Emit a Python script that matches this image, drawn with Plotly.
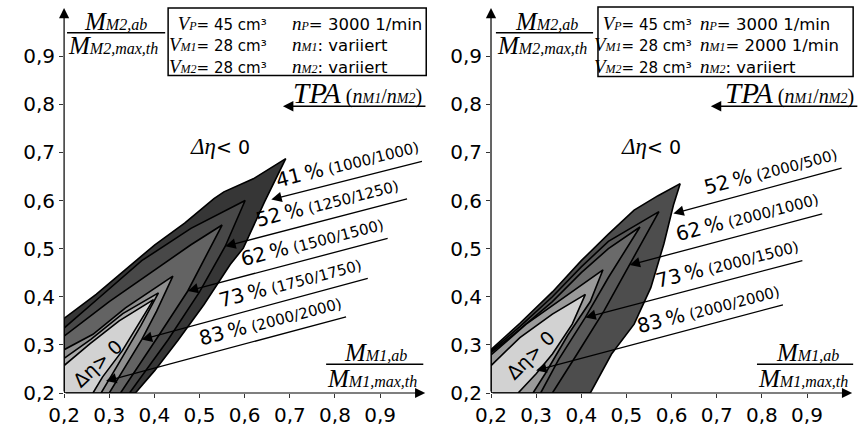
import math
import plotly.graph_objects as go

# ---------------- data ----------------
ticks = [0.2, 0.3, 0.4, 0.5, 0.6, 0.7, 0.8, 0.9]

# left panel: n_M1 = n_M2 varied; nested efficiency-gain regions (outer -> inner)
left_41_x = [0.2, 0.2, 0.271, 0.336, 0.401, 0.467, 0.532, 0.554, 0.619, 0.691, 0.644, 0.597, 0.568, 0.51, 0.452, 0.401, 0.358, 0.2]
left_41_y = [0.2, 0.355, 0.405, 0.456, 0.508, 0.553, 0.604, 0.618, 0.645, 0.687, 0.597, 0.501, 0.467, 0.384, 0.309, 0.247, 0.2, 0.2]
left_52_x = [0.2, 0.2, 0.28, 0.372, 0.481, 0.601, 0.557, 0.50, 0.43, 0.345, 0.2]
left_52_y = [0.2, 0.335, 0.40, 0.475, 0.542, 0.600, 0.505, 0.41, 0.31, 0.2, 0.2]
left_62_x = [0.2, 0.2, 0.30, 0.409, 0.481, 0.55, 0.474, 0.41, 0.325, 0.2]
left_62_y = [0.2, 0.318, 0.39, 0.46, 0.508, 0.549, 0.412, 0.32, 0.2, 0.2]
left_73_x = [0.2, 0.2, 0.264, 0.336, 0.441, 0.405, 0.372, 0.30, 0.2]
left_73_y = [0.2, 0.29, 0.322, 0.377, 0.443, 0.37, 0.311, 0.2, 0.2]
left_83_x = [0.2, 0.2, 0.26, 0.33, 0.409, 0.37, 0.32, 0.282, 0.2]
left_83_y = [0.2, 0.272, 0.312, 0.365, 0.408, 0.34, 0.26, 0.2, 0.2]
left_pos_x = [0.2, 0.2, 0.257, 0.322, 0.398, 0.365, 0.329, 0.285, 0.264, 0.2]
left_pos_y = [0.2, 0.257, 0.302, 0.35, 0.394, 0.343, 0.288, 0.233, 0.2, 0.2]

left_pct = ["41", "52", "62", "73", "83"]
left_tpa = ["1000/1000", "1250/1250", "1500/1500", "1750/1750", "2000/2000"]
left_head_x = [0.659, 0.557, 0.474, 0.372, 0.293]
left_head_y = [0.602, 0.505, 0.412, 0.311, 0.225]
left_tail_x = [0.996, 0.963, 0.920, 0.876, 0.828]
left_tail_y = [0.682, 0.604, 0.522, 0.439, 0.359]
left_text_x = [0.826, 0.783, 0.750, 0.700, 0.657]
left_text_y = [0.678, 0.596, 0.515, 0.431, 0.352]

# right panel: n_M1 = 2000 1/min, n_M2 varied
right_52_x = [0.2, 0.2, 0.264, 0.336, 0.40, 0.46, 0.517, 0.57, 0.619, 0.604, 0.583, 0.554, 0.517, 0.467, 0.42, 0.2]
right_52_y = [0.2, 0.29, 0.345, 0.41, 0.475, 0.53, 0.58, 0.61, 0.635, 0.59, 0.51, 0.419, 0.343, 0.281, 0.2, 0.2]
right_62_x = [0.2, 0.2, 0.264, 0.336, 0.40, 0.46, 0.572, 0.507, 0.45, 0.39, 0.336, 0.2]
right_62_y = [0.2, 0.287, 0.338, 0.40, 0.462, 0.515, 0.577, 0.466, 0.37, 0.28, 0.2, 0.2]
right_73_x = [0.2, 0.2, 0.264, 0.336, 0.40, 0.46, 0.53, 0.46, 0.409, 0.35, 0.31, 0.2]
right_73_y = [0.2, 0.284, 0.332, 0.39, 0.45, 0.50, 0.545, 0.44, 0.357, 0.27, 0.2, 0.2]
right_83_x = [0.2, 0.2, 0.278, 0.372, 0.448, 0.42, 0.37, 0.32, 0.293, 0.2]
right_83_y = [0.2, 0.279, 0.343, 0.405, 0.456, 0.39, 0.32, 0.24, 0.2, 0.2]
right_pos_x = [0.2, 0.2, 0.264, 0.336, 0.409, 0.380, 0.336, 0.30, 0.26, 0.2]
right_pos_y = [0.2, 0.257, 0.315, 0.364, 0.405, 0.343, 0.281, 0.24, 0.2, 0.2]

right_pct = ["52", "62", "73", "83"]
right_tpa = ["2000/500", "2000/1000", "2000/1500", "2000/2000"]
right_head_x = [0.604, 0.507, 0.409, 0.300]
right_head_y = [0.573, 0.466, 0.357, 0.247]
right_tail_x = [0.980, 0.937, 0.893, 0.850]
right_tail_y = [0.668, 0.573, 0.476, 0.384]
right_text_x = [0.820, 0.766, 0.722, 0.681]
right_text_y = [0.664, 0.567, 0.470, 0.377]

# ---------------- styling ----------------
W, H = 861, 427
TOP, BOT = 8, 396
SANS = "DejaVu Sans"
SERIF = "Liberation Serif"
PX_X = 460.0   # px per data unit (x)
PX_Y = 485.0   # px per data unit (y)

def px(p):
    return p / W

def py(p):
    return (BOT - p) / (BOT - TOP)

def sym(base, sub, bs, ss):
    return (f'<span style="font-family:{SERIF};font-size:{bs}px"><i>{base}</i></span>'
            f'<span style="font-family:{SERIF};font-size:{ss}px"><i>{sub}</i></span>')

def sans(t, s=16):
    return f'<span style="font-family:{SANS};font-size:{s}px">{t}</span>'

fig = go.Figure()

left_regions = [
    (left_41_x, left_41_y, "#363636"),
    (left_52_x, left_52_y, "#484848"),
    (left_62_x, left_62_y, "#636363"),
    (left_73_x, left_73_y, "#8f8f8f"),
    (left_83_x, left_83_y, "#aaaaaa"),
    (left_pos_x, left_pos_y, "#d2d2d2"),
]
right_regions = [
    (right_52_x, right_52_y, "#4d4d4d"),
    (right_62_x, right_62_y, "#585858"),
    (right_73_x, right_73_y, "#6a6a6a"),
    (right_83_x, right_83_y, "#9a9a9a"),
    (right_pos_x, right_pos_y, "#d2d2d2"),
]
for xs, ys, c in left_regions:
    fig.add_trace(go.Scatter(x=xs, y=ys, mode="lines", fill="toself", fillcolor=c,
                             line=dict(color="black", width=1.6), hoverinfo="skip",
                             xaxis="x", yaxis="y"))
for xs, ys, c in right_regions:
    fig.add_trace(go.Scatter(x=xs, y=ys, mode="lines", fill="toself", fillcolor=c,
                             line=dict(color="black", width=1.6), hoverinfo="skip",
                             xaxis="x2", yaxis="y2"))

ann = []
shapes = []

def arrow(xr, yr, hx, hy, tx, ty, w=1.3, size=1.0):
    ann.append(dict(x=hx, y=hy, ax=tx, ay=ty, xref=xr, yref=yr, axref=xr, ayref=yr,
                    text="", showarrow=True, arrowhead=2, arrowsize=size,
                    arrowwidth=w, arrowcolor="black", standoff=0, startstandoff=0))

for xr, yr in (("x", "y"), ("x2", "y2")):
    arrow(xr, yr, 1.0, 0.2, 0.2, 0.2, w=1.2, size=1.7)
    arrow(xr, yr, 0.2, 1.0, 0.2, 0.2, w=1.2, size=1.7)

def labels(xr, yr, pct, tpa, hx, hy, tx, ty, lx, ly):
    for i in range(len(pct)):
        arrow(xr, yr, hx[i], hy[i], tx[i], ty[i], w=1.3, size=1.6)
        ang = -math.degrees(math.atan2((ty[i] - hy[i]) * PX_Y, (tx[i] - hx[i]) * PX_X))
        txt = (f'<span style="font-size:20px">{pct[i]}\u2009%</span>'
               f'<span style="font-size:15px"> ({tpa[i]})</span>')
        ann.append(dict(x=lx[i], y=ly[i], xref=xr, yref=yr, text=txt, showarrow=False,
                        textangle=ang, font=dict(family=SANS, color="black"),
                        xanchor="center", yanchor="middle"))

labels("x", "y", left_pct, left_tpa, left_head_x, left_head_y, left_tail_x, left_tail_y,
       left_text_x, left_text_y)
labels("x2", "y2", right_pct, right_tpa, right_head_x, right_head_y, right_tail_x,
       right_tail_y, right_text_x, right_text_y)

def text(x, y, t, xa="center", ya="middle", angle=0, xr="paper", yr="paper", align="center",
         size=16):
    ann.append(dict(x=x, y=y, xref=xr, yref=yr, text=t, showarrow=False, xanchor=xa,
                    yanchor=ya, textangle=angle, align=align,
                    font=dict(family=SANS, size=size, color="black")))

# delta-eta labels
deta_lt = (f'<span style="font-family:{SERIF};font-size:23px"><i>Δη</i></span>'
           + sans("&lt; 0", 19))
text(0.545, 0.713, deta_lt, xr="x", yr="y")
text(0.555, 0.713, deta_lt, xr="x2", yr="y2")
text(0.2746, 0.262, sans("Δη&gt; 0", 19), angle=-43, xr="x", yr="y")
text(0.287, 0.279, sans("Δη&gt; 0", 19), angle=-45, xr="x2", yr="y2")

# boxes
def box(x0, x1, y0, y1):
    shapes.append(dict(type="rect", xref="paper", yref="paper", x0=px(x0), x1=px(x1),
                       y0=py(y1), y1=py(y0), line=dict(color="black", width=1.5),
                       fillcolor="rgba(0,0,0,0)"))

box(155, 418, 8, 76)
box(593, 853, 7, 77)

VS, SS = 19, 12
BR = "<br>"
col1 = BR.join([sym("V", "P", VS, SS) + sans("= 45 cm³", 15),
                sym("V", "M1", VS, SS) + sans("= 28 cm³", 15),
                sym("V", "M2", VS, SS) + sans("= 28 cm³", 15)])
col2_left = BR.join([sym("n", "P", VS, SS) + sans("= 3000 1/min", 16.5),
                     sym("n", "M1", VS, SS) + sans(": variiert", 16.5),
                     sym("n", "M2", VS, SS) + sans(": variiert", 16.5)])
col2_right = BR.join([sym("n", "P", VS, SS) + sans("= 3000 1/min", 16.5),
                      sym("n", "M1", VS, SS) + sans("= 2000 1/min", 16.5),
                      sym("n", "M2", VS, SS) + sans(": variiert", 16.5)])
text(px(258), py(45), col1, xa="right", align="right", size=16.5)
text(px(279), py(45), col2_left, xa="left", align="left", size=16.5)
text(px(691), py(45), col1, xa="right", align="right", size=16.5)
text(px(695), py(45), col2_right, xa="left", align="left", size=16.5)

# fraction labels
def fraction(num_left, den_left, bar0, bar1, ybar, ynum, yden, sub_num, sub_den):
    text(px(num_left), py(ynum), sym("M", sub_num, 25, 16), xa="left")
    text(px(den_left), py(yden), sym("M", sub_den, 25, 16), xa="left")
    shapes.append(dict(type="line", xref="paper", yref="paper", x0=px(bar0), x1=px(bar1),
                       y0=py(ybar), y1=py(ybar), line=dict(color="black", width=1.4)))

fraction(67, 51, 52, 152, 33, 22, 46, "M2,ab", "M2,max,th")
fraction(506, 488, 489, 588, 33, 22, 46, "M2,ab", "M2,max,th")
fraction(332, 315, 316, 415, 367, 355, 381, "M1,ab", "M1,max,th")
fraction(772, 754, 755, 853, 367, 355, 381, "M1,ab", "M1,max,th")

# TPA labels with arrows
tpa_txt = (f'<span style="font-family:{SERIF};font-size:29px"><i>TPA</i></span>'
           f'<span style="font-family:{SERIF};font-size:20px"> (</span>'
           + sym("n", "M1", 20, 14)
           + f'<span style="font-family:{SERIF};font-size:20px">/</span>'
           + sym("n", "M2", 20, 14)
           + f'<span style="font-family:{SERIF};font-size:20px">)</span>')
for right_edge, left_end in ((416, 272), (856, 708)):
    text(px(right_edge), py(94), tpa_txt, xa="right")
    ann.append(dict(x=px(left_end), y=py(107), xref="paper", yref="paper",
                    ax=right_edge - left_end, ay=0, text="", showarrow=True,
                    arrowhead=2, arrowsize=1.6, arrowwidth=1.3, arrowcolor="black",
                    standoff=0))

axis_common = dict(range=[0.2, 1.0], tickvals=ticks, tickformat=".1f", ticks="outside",
                   ticklen=4, tickwidth=1, tickcolor="#333", showgrid=False, zeroline=False,
                   showline=False, tickfont=dict(family=SANS, size=20, color="black"),
                   fixedrange=True)

fig.update_layout(
    width=W, height=H,
    margin=dict(l=0, r=0, t=TOP, b=H - BOT),
    paper_bgcolor="white", plot_bgcolor="white",
    showlegend=False,
    separators=", ",
    xaxis=dict(domain=[49 / W, 417 / W], anchor="y", **axis_common),
    yaxis=dict(domain=[0, 1], anchor="x", **axis_common),
    xaxis2=dict(domain=[484 / W, 852 / W], anchor="y2", **axis_common),
    yaxis2=dict(domain=[0, 1], anchor="x2", **axis_common),
    annotations=ann,
    shapes=shapes,
)

fig.write_html("out.html")
